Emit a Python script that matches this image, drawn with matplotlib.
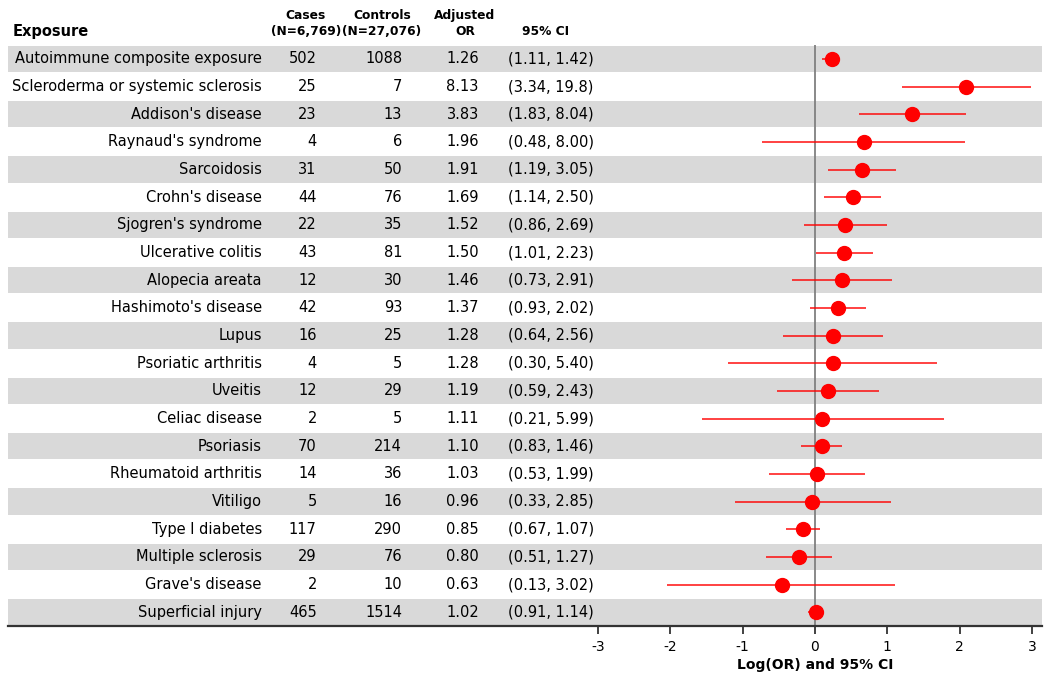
import numpy as np
import matplotlib
matplotlib.use("Agg")
import matplotlib.pyplot as plt

# table data, top row first
exposure = [
    "Autoimmune composite exposure", "Scleroderma or systemic sclerosis",
    "Addison's disease", "Raynaud's syndrome", "Sarcoidosis", "Crohn's disease",
    "Sjogren's syndrome", "Ulcerative colitis", "Alopecia areata",
    "Hashimoto's disease", "Lupus", "Psoriatic arthritis", "Uveitis",
    "Celiac disease", "Psoriasis", "Rheumatoid arthritis", "Vitiligo",
    "Type I diabetes", "Multiple sclerosis", "Grave's disease", "Superficial injury",
]
cases = [502, 25, 23, 4, 31, 44, 22, 43, 12, 42, 16, 4, 12, 2, 70, 14, 5, 117, 29, 2, 465]
controls = [1088, 7, 13, 6, 50, 76, 35, 81, 30, 93, 25, 5, 29, 5, 214, 36, 16, 290, 76, 10, 1514]
odds_ratio = [1.26, 8.13, 3.83, 1.96, 1.91, 1.69, 1.52, 1.50, 1.46, 1.37, 1.28, 1.28,
              1.19, 1.11, 1.10, 1.03, 0.96, 0.85, 0.80, 0.63, 1.02]
ci_low = [1.11, 3.34, 1.83, 0.48, 1.19, 1.14, 0.86, 1.01, 0.73, 0.93, 0.64, 0.30,
          0.59, 0.21, 0.83, 0.53, 0.33, 0.67, 0.51, 0.13, 0.91]
ci_high = [1.42, 19.8, 8.04, 8.00, 3.05, 2.50, 2.69, 2.23, 2.91, 2.02, 2.56, 5.40,
           2.43, 5.99, 1.46, 1.99, 2.85, 1.07, 1.27, 3.02, 1.14]
x_ticks = [-3, -2, -1, 0, 1, 2, 3]

BAND = "#d9d9d9"
RED = "#ff0000"


def fmt_ci(v):
    return f"{v:.2f}" if v < 10 else f"{v:.1f}"


fig = plt.figure(figsize=(10.5, 6.85), dpi=100)
ax = fig.add_axes([8 / 1050, 1 - 626 / 685, 1034 / 1050, 581 / 685])

n = len(exposure)
rows = np.arange(n)
ax.set_xlim(-11.16, 3.14)
ax.set_ylim(n - 0.5, -0.5)

# alternating row bands
for i in rows[::2]:
    ax.axhspan(i - 0.47, i + 0.47, color=BAND, lw=0, zorder=0)

ax.axvline(0, color="#808080", lw=1.3, zorder=1)

log_or = np.log(odds_ratio)
ax.hlines(rows, np.log(ci_low), np.log(ci_high), color=RED, lw=1.3, alpha=0.8, zorder=2)
ax.plot(log_or, rows, "o", color=RED, ms=10, zorder=3)

# table columns
fs = 10.5
for i in rows:
    ax.text(-7.65, i, exposure[i], ha="right", va="center", fontsize=fs)
    ax.text(-6.89, i, str(cases[i]), ha="right", va="center", fontsize=fs)
    ax.text(-5.71, i, str(controls[i]), ha="right", va="center", fontsize=fs)
    ax.text(-4.65, i, f"{odds_ratio[i]:.2f}", ha="right", va="center", fontsize=fs)
    ax.text(-4.25, i, f"({fmt_ci(ci_low[i])}, {fmt_ci(ci_high[i])})",
            ha="left", va="center", fontsize=fs)

# header
hy = -0.97
ax.text(-11.1, hy, "Exposure", ha="left", va="center", fontsize=10.5, fontweight="bold", clip_on=False)
for xc, label in [(-7.04, "Cases\n(N=6,769)"), (-5.99, "Controls\n(N=27,076)"),
                  (-4.84, "Adjusted\nOR")]:
    ax.text(xc, hy - 0.31, label, ha="center", va="center", fontsize=8.8,
            fontweight="bold", linespacing=1.3, clip_on=False)
ax.text(-3.73, hy, "95% CI", ha="center", va="center", fontsize=8.8, fontweight="bold", clip_on=False)

# axes styling
for side in ["top", "right", "left"]:
    ax.spines[side].set_visible(False)
ax.spines["bottom"].set_color("#333333")
ax.spines["bottom"].set_linewidth(1.6)
ax.set_yticks([])
ax.set_xticks(x_ticks)
ax.set_xticklabels([str(t) for t in x_ticks], fontsize=10)
ax.tick_params(axis="x", length=6, width=1.3, color="#333333", pad=4)
ax.text(0, 21.9, "Log(OR) and 95% CI", ha="center", va="center", fontsize=10,
        fontweight="bold", clip_on=False)

fig.savefig("out.png", dpi=100)
